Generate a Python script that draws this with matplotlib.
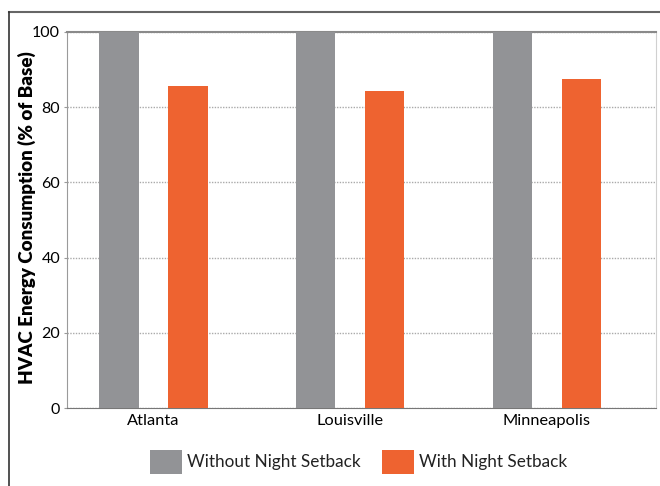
import matplotlib
matplotlib.use("Agg")
import matplotlib.pyplot as plt
import numpy as np
from matplotlib.lines import Line2D

# Data
cities = ["Atlanta", "Louisville", "Minneapolis"]
without_setback = [100, 100, 100]
with_setback = [85.6, 84.4, 87.6]
series_names = ["Without Night Setback", "With Night Setback"]
y_ticks = [0, 20, 40, 60, 80, 100]

GRAY = "#929396"
ORANGE = "#EE6330"

plt.rcParams["font.family"] = ["Lato", "DejaVu Sans"]
plt.rcParams["text.color"] = "#222222"

fig = plt.figure(figsize=(6.6, 4.86), dpi=100)
ax = fig.add_axes([67/660, 1 - 408/486, (656-67)/660, (408-32)/486])

x = np.arange(len(cities))
w = 0.2
off = 0.175
ax.bar(x - off, without_setback, w, color=GRAY, label=series_names[0], zorder=3)
ax.bar(x + off, with_setback, w, color=ORANGE, label=series_names[1], zorder=3)

ax.set_xlim(-0.44, 2.555)
ax.set_ylim(0, 100)
ax.set_yticks(y_ticks)
ax.set_xticks(x)
ax.set_xticklabels(cities, fontsize=11.8)
ax.tick_params(axis="y", labelsize=11.5, length=2, color="#999999", pad=3)
ax.tick_params(axis="x", length=0, pad=4)
ax.yaxis.grid(True, linestyle=(0, (1, 1)), color="#aaaaaa", linewidth=1, zorder=0)
ax.set_axisbelow(True)

ax.spines["left"].set_color("#9a9a9a")
ax.spines["bottom"].set_color("#777777")
ax.spines["top"].set_color("#8a8a8a")
ax.spines["top"].set_linewidth(1.5)
ax.spines["right"].set_color("#d0d0d0")

ax.set_ylabel("HVAC Energy Consumption (% of Base)", fontsize=13.5,
              fontweight="heavy")
ax.yaxis.set_label_coords(-31/589, 0.507)

leg = fig.legend(loc="center", bbox_to_anchor=(359/660, 1 - 462/486), ncol=2,
                 frameon=False, fontsize=12.3, handlelength=1.87, handleheight=1.87,
                 handletextpad=0.3, columnspacing=1.25)

# outer frame (top and left edges)
fig.add_artist(Line2D([9/660, 1], [1 - 12/486, 1 - 12/486], color="#666666",
                      linewidth=1.5, transform=fig.transFigure))
fig.add_artist(Line2D([9/660, 9/660], [0, 1 - 12/486], color="#333333",
                      linewidth=1.2, transform=fig.transFigure))

fig.savefig("out.png", dpi=100)
